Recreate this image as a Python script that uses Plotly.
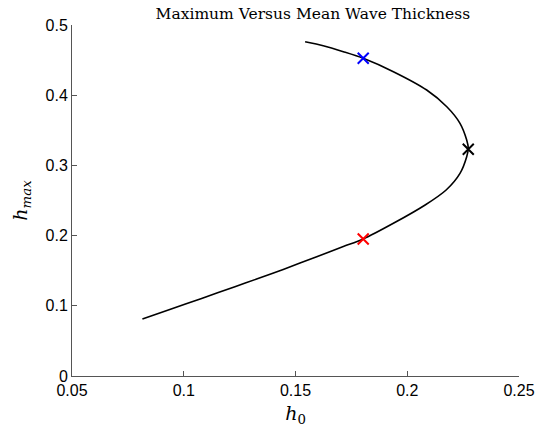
import plotly.graph_objects as go

# Curve h_max vs h_0, lower branch then upper branch
h0 = [0.0815, 0.0931, 0.1080, 0.1229, 0.1326, 0.1445, 0.1595, 0.1714, 0.1803,
      0.1938, 0.2080, 0.2174, 0.2236, 0.2266, 0.2273,
      0.2266, 0.2236, 0.2177, 0.2087, 0.1938, 0.1803, 0.1714, 0.1624, 0.1543]
hmax = [0.0812, 0.0940, 0.1105, 0.1272, 0.1381, 0.1518, 0.1699, 0.1844, 0.1952,
        0.2175, 0.2436, 0.2650, 0.2887, 0.3124, 0.3244,
        0.3362, 0.3600, 0.3836, 0.4074, 0.4335, 0.4526, 0.4620, 0.4705, 0.4762]

# Marked points
mark_x = [0.1803, 0.2273, 0.1803]
mark_y = [0.1952, 0.3230, 0.4526]
mark_colors = ["#ff0000", "#000000", "#0000ff"]

xticks = [0.05, 0.1, 0.15, 0.2, 0.25]
xticklabels = ["0.05", "0.1", "0.15", "0.2", "0.25"]
yticks = [0, 0.1, 0.2, 0.3, 0.4, 0.5]
yticklabels = ["0", "0.1", "0.2", "0.3", "0.4", "0.5"]

fig = go.Figure()
fig.add_trace(go.Scatter(x=h0, y=hmax, mode="lines",
                         line=dict(color="black", width=1.6, shape="spline", smoothing=0.8),
                         showlegend=False, hoverinfo="skip"))
for x, y, c in zip(mark_x, mark_y, mark_colors):
    fig.add_trace(go.Scatter(x=[x], y=[y], mode="markers",
                             marker=dict(symbol="x-thin", size=11, line=dict(color=c, width=2)),
                             showlegend=False))

axis_common = dict(showline=True, linecolor="#555555", linewidth=1, ticks="inside", ticklen=5,
                   tickcolor="#555555", showgrid=False, zeroline=False, mirror=False,
                   tickfont=dict(family="Liberation Sans, Arial", size=16, color="black"))

fig.update_layout(
    width=548, height=433,
    margin=dict(l=72, r=29, t=25, b=57),
    paper_bgcolor="white", plot_bgcolor="white",
    title=dict(text="Maximum Versus Mean Wave Thickness", x=0.571, xanchor="center", y=0.969, yanchor="middle",
               font=dict(family="DejaVu Serif", size=15.5, color="black")),
    xaxis=dict(range=[0.05, 0.25], tickvals=xticks, ticktext=xticklabels,
               title=dict(text="<i>h</i><sub>0</sub>", font=dict(family="DejaVu Serif", size=19, color="black"), standoff=8),
               **axis_common),
    yaxis=dict(range=[0, 0.5], tickvals=yticks, ticktext=yticklabels,
               title=dict(text="<i>h</i><sub><i>max</i></sub>", font=dict(family="DejaVu Serif", size=19, color="black"), standoff=12),
               **axis_common),
)
fig.write_html("out.html")
